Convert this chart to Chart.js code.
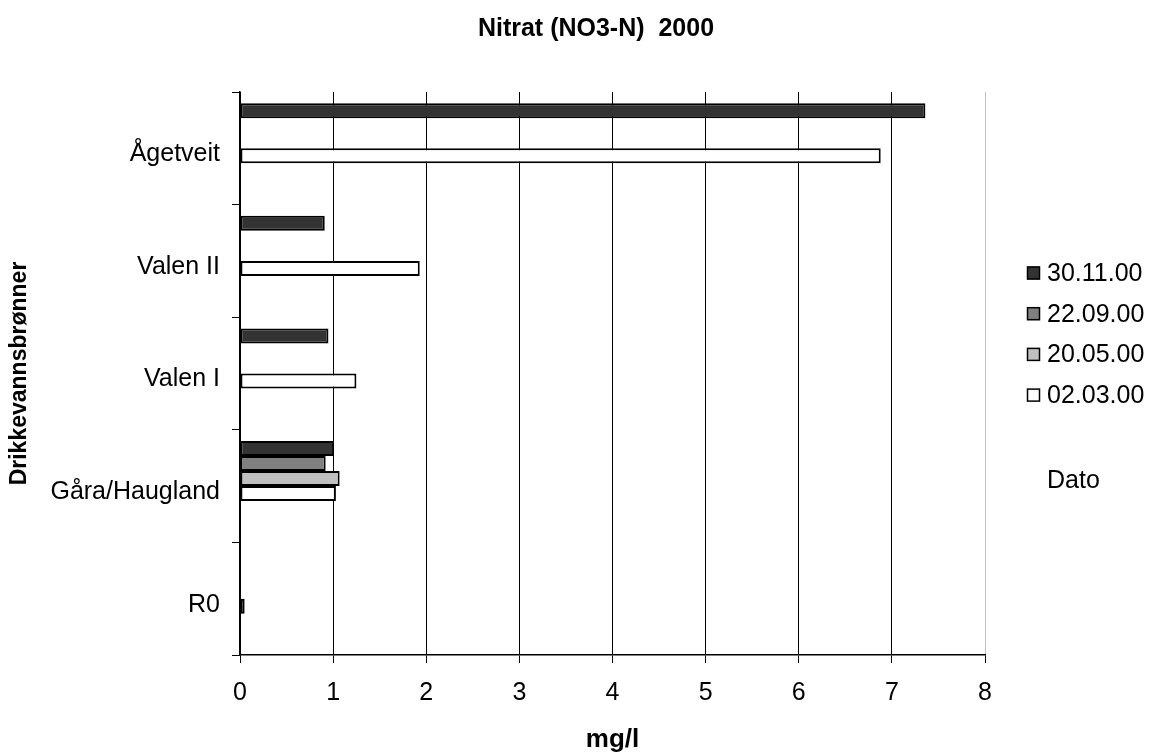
<!DOCTYPE html>
<html>
<head>
<meta charset="utf-8">
<script src="https://cdn.jsdelivr.net/npm/chart.js@4"></script>
<style>
  body { margin: 0; background: #fff; }
  #wrap { width: 1152px; height: 753px; position: relative; }
</style>
</head>
<body>
<div id="wrap"><canvas id="nitratChart"></canvas></div>
<script>
// categories (top to bottom) and measured values, mg/l
const stations = ['Ågetveit', 'Valen II', 'Valen I', 'Gåra/Haugland', 'R0'];
const dateLabels = ['30.11.00', '22.09.00', '20.05.00', '02.03.00'];
const nov30 = [7.36, 0.91, 0.95, 1.01, null];
const sep22 = [null, null, null, 0.92, null];
const may20 = [null, null, null, 1.07, null];
const mar02 = [6.88, 1.93, 1.25, 1.03, 0.05];
const xTicks = [0, 1, 2, 3, 4, 5, 6, 7, 8];

const fontFam = '"Liberation Sans", Arial, sans-serif';
const fills = ['#333333', '#808080', '#c0c0c0', '#ffffff'];

/* title, legend and the "Dato" caption drawn on the canvas */
const extras = {
    id: 'extras',
    afterDraw(chart) {
        const ctx = chart.ctx;
        ctx.save();
        ctx.fillStyle = '#000';
        ctx.textBaseline = 'middle';
        ctx.font = 'bold 25px ' + fontFam;
        ctx.textAlign = 'center';
        ctx.fillText('Nitrat (NO3-N)  2000', 596, 29);

        ctx.textAlign = 'left';
        ctx.font = '25px ' + fontFam;
        chart.data.datasets.filter(d => d.label).forEach((ds, i) => {
            const y = 273 + i * 40.7;
            ctx.fillStyle = ds.backgroundColor;
            ctx.fillRect(1027, y - 6.5, 13, 13);
            ctx.strokeStyle = '#000';
            ctx.lineWidth = 1.5;
            ctx.strokeRect(1027.5, y - 6, 12, 12);
            ctx.fillStyle = '#000';
            ctx.fillText(ds.label, 1047, y + 1);
        });
        ctx.fillText('Dato', 1047, 481);
        ctx.restore();
    }
};

const seriesData = [nov30, sep22, may20, mar02];
const datasets = seriesData.map((d, i) => ({
    label: dateLabels[i],
    data: d,
    backgroundColor: fills[i],
    borderColor: '#000',
    borderWidth: 2,
    borderSkipped: false,
    categoryPercentage: 0.8,
    barPercentage: 1.0
}));
// two unnamed, empty series keep the bar groups where Excel put them
for (let k = 0; k < 2; k++) {
    datasets.push({ label: '', data: stations.map(() => null), categoryPercentage: 0.8, barPercentage: 1.0 });
}

new Chart(document.getElementById('nitratChart'), {
    type: 'bar',
    data: { labels: stations, datasets: datasets },
    plugins: [extras],
    options: {
        indexAxis: 'y',
        responsive: true,
        maintainAspectRatio: false,
        animation: false,
        layout: { padding: { top: 92, right: 167, bottom: 0, left: 0 } },
        plugins: {
            legend: { display: false },
            title: { display: false },
            tooltip: { enabled: false }
        },
        scales: {
            x: {
                min: 0,
                max: 8,
                afterBuildTicks(scale) { scale.ticks = xTicks.map(v => ({ value: v })); },
                afterFit(scale) { scale.height = 98; },
                grid: {
                    color: c => (c.tick && c.tick.value === 8) ? '#c0c0c0' : '#000',
                    tickColor: '#000',
                    tickLength: 8,
                    lineWidth: 1
                },
                border: { display: true, color: '#000', width: 1.5 },
                ticks: { color: '#000', padding: 18, font: { family: fontFam, size: 25, lineHeight: 1 } },
                title: {
                    display: true,
                    text: 'mg/l',
                    color: '#000',
                    padding: { top: 0, bottom: 0 },
                    font: { family: fontFam, size: 26, weight: 'bold', lineHeight: 1 }
                }
            },
            y: {
                afterFit(scale) { scale.width = 240; },
                grid: {
                    drawOnChartArea: false,
                    drawTicks: true,
                    tickLength: 8,
                    color: '#000',
                    offset: true
                },
                border: { display: true, color: '#000', width: 1.5 },
                ticks: { color: '#000', padding: 12, labelOffset: 6, font: { family: fontFam, size: 25, lineHeight: 1 } },
                title: {
                    display: true,
                    text: 'Drikkevannsbrønner',
                    color: '#000',
                    padding: { top: 8, bottom: 0 },
                    font: { family: fontFam, size: 23, weight: 'bold', lineHeight: 1 }
                }
            }
        }
    }
});
</script>
</body>
</html>
